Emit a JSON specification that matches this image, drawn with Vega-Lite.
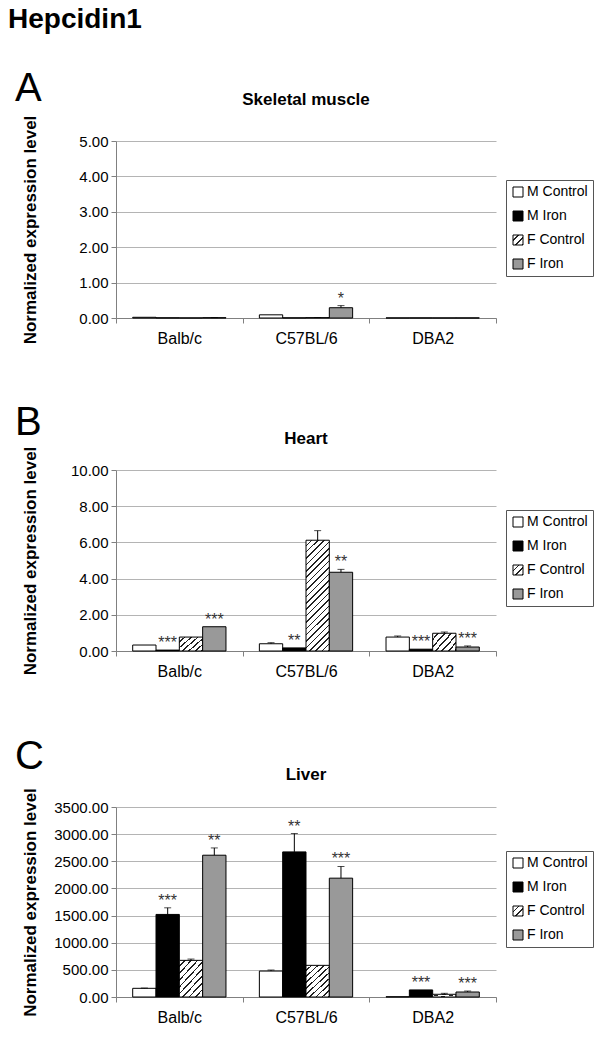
{
  "$schema": "https://vega.github.io/schema/vega-lite/v6.json",
  "padding": {"left": 8, "top": 6, "right": 5, "bottom": 5},
  "title": {"text": "Hepcidin1", "anchor": "start", "frame": "bounds", "fontSize": 28, "fontWeight": "bold", "dx": -7, "offset": 35, "color": "black"},
  "spacing": 57,
  "resolve": {"scale": {"fill": "independent", "xOffset": "independent", "x": "independent", "y": "independent"}, "legend": {"fill": "independent"}},
  "vconcat": [
    {
      "title": {"text": "A", "anchor": "start", "frame": "bounds", "fontSize": 40, "fontWeight": "normal", "dx": -6, "offset": -18, "color": "black"},
      "vconcat": [
        {
          "title": {"text": "Skeletal muscle", "anchor": "middle", "frame": "group", "fontSize": 17, "fontWeight": "bold", "offset": 6, "color": "black"},
          "width": 380,
          "height": 177,
          "data": {"values": [
            {"strain": "Balb/c", "group": "M Control", "value": 0.02, "hi": 0.02, "sig": ""},
            {"strain": "Balb/c", "group": "M Iron", "value": 0.004, "hi": 0.004, "sig": ""},
            {"strain": "Balb/c", "group": "F Control", "value": 0.003, "hi": 0.003, "sig": ""},
            {"strain": "Balb/c", "group": "F Iron", "value": 0.008, "hi": 0.012, "sig": ""},
            {"strain": "C57BL/6", "group": "M Control", "value": 0.09, "hi": 0.09, "sig": ""},
            {"strain": "C57BL/6", "group": "M Iron", "value": 0.004, "hi": 0.004, "sig": ""},
            {"strain": "C57BL/6", "group": "F Control", "value": 0.01, "hi": 0.015, "sig": ""},
            {"strain": "C57BL/6", "group": "F Iron", "value": 0.29, "hi": 0.35, "sig": "*"},
            {"strain": "DBA2", "group": "M Control", "value": 0.003, "hi": 0.003, "sig": ""},
            {"strain": "DBA2", "group": "M Iron", "value": 0.003, "hi": 0.003, "sig": ""},
            {"strain": "DBA2", "group": "F Control", "value": 0.003, "hi": 0.003, "sig": ""},
            {"strain": "DBA2", "group": "F Iron", "value": 0.003, "hi": 0.003, "sig": ""}
          ]},
          "encoding": {
            "x": {"field": "strain", "type": "nominal", "sort": ["Balb/c", "C57BL/6", "DBA2"], "scale": {"paddingInner": 0, "paddingOuter": 0}},
            "xOffset": {"field": "group", "type": "nominal", "sort": ["M Control", "M Iron", "F Control", "F Iron"], "scale": {"paddingInner": 0, "paddingOuter": 0.716}}
          },
          "layer": [
            {
              "mark": {"type": "bar", "stroke": "black", "strokeWidth": 1},
              "encoding": {
                "y": {"field": "value", "type": "quantitative", "title": "Normalized expression level", "scale": {"domain": [0, 5], "nice": false}, "axis": {"values": [0, 1, 2, 3, 4, 5], "titleY": 88.5}},
                "fill": {"field": "group", "type": "nominal", "sort": ["M Control", "M Iron", "F Control", "F Iron"],
                  "scale": {"domain": ["M Control", "M Iron", "F Control", "F Iron"], "range": ["white", "black",
                    {"expr": "{gradient: 'linear', x1: 0, y1: 0, x2: 1, y2: 1, stops: [{offset: 0, color: 'white'}, {offset: 0.25, color: 'white'}, {offset: 0.25, color: '#222'}, {offset: 0.3333, color: '#222'}, {offset: 0.3333, color: 'white'}, {offset: 0.5833, color: 'white'}, {offset: 0.5833, color: '#222'}, {offset: 0.6667, color: '#222'}, {offset: 0.6667, color: 'white'}, {offset: 0.9167, color: 'white'}, {offset: 0.9167, color: '#222'}, {offset: 1, color: '#222'}]}"},
                    "#999999"]},
                  "legend": {"legendX": 390, "legendY": 39,
                    "encode": {"symbols": {"update": {"stroke": {"value": "black"}, "strokeWidth": {"value": 1}}}}}}
              }
            },
            {
              "mark": {"type": "rule", "color": "black", "strokeWidth": 1},
              "encoding": {"y": {"field": "value", "type": "quantitative", "title": "Normalized expression level", "axis": {"values": [0, 1, 2, 3, 4, 5], "titleY": 88.5}}, "y2": {"field": "hi"}}
            },
            {
              "transform": [{"filter": "datum.hi > datum.value"}],
              "mark": {"type": "tick", "color": "black", "thickness": 1, "size": 7},
              "encoding": {"y": {"field": "hi", "type": "quantitative", "title": "Normalized expression level", "axis": {"values": [0, 1, 2, 3, 4, 5], "titleY": 88.5}}}
            },
            {
              "mark": {"type": "text", "baseline": "bottom", "dy": 1, "fontSize": 16, "color": "#333"},
              "encoding": {"y": {"field": "hi", "type": "quantitative", "title": "Normalized expression level", "axis": {"values": [0, 1, 2, 3, 4, 5], "titleY": 88.5}}, "text": {"field": "sig"}}
            }
          ]
        }
      ]
    },
    {
      "title": {"text": "B", "anchor": "start", "frame": "bounds", "fontSize": 40, "fontWeight": "normal", "dx": -6, "offset": -13, "color": "black"},
      "vconcat": [
        {
          "title": {"text": "Heart", "anchor": "middle", "frame": "group", "fontSize": 17, "fontWeight": "bold", "offset": -2, "color": "black"},
          "width": 380,
          "height": 181,
          "data": {"values": [
            {"strain": "Balb/c", "group": "M Control", "value": 0.33, "hi": 0.33, "sig": ""},
            {"strain": "Balb/c", "group": "M Iron", "value": 0.05, "hi": 0.05, "sig": "***"},
            {"strain": "Balb/c", "group": "F Control", "value": 0.77, "hi": 0.77, "sig": ""},
            {"strain": "Balb/c", "group": "F Iron", "value": 1.34, "hi": 1.34, "sig": "***"},
            {"strain": "C57BL/6", "group": "M Control", "value": 0.4, "hi": 0.46, "sig": ""},
            {"strain": "C57BL/6", "group": "M Iron", "value": 0.17, "hi": 0.17, "sig": "**"},
            {"strain": "C57BL/6", "group": "F Control", "value": 6.12, "hi": 6.65, "sig": ""},
            {"strain": "C57BL/6", "group": "F Iron", "value": 4.35, "hi": 4.51, "sig": "**"},
            {"strain": "DBA2", "group": "M Control", "value": 0.77, "hi": 0.83, "sig": ""},
            {"strain": "DBA2", "group": "M Iron", "value": 0.1, "hi": 0.1, "sig": "***"},
            {"strain": "DBA2", "group": "F Control", "value": 0.98, "hi": 1.05, "sig": ""},
            {"strain": "DBA2", "group": "F Iron", "value": 0.22, "hi": 0.28, "sig": "***"}
          ]},
          "encoding": {
            "x": {"field": "strain", "type": "nominal", "sort": ["Balb/c", "C57BL/6", "DBA2"], "scale": {"paddingInner": 0, "paddingOuter": 0}},
            "xOffset": {"field": "group", "type": "nominal", "sort": ["M Control", "M Iron", "F Control", "F Iron"], "scale": {"paddingInner": 0, "paddingOuter": 0.716}}
          },
          "layer": [
            {
              "mark": {"type": "bar", "stroke": "black", "strokeWidth": 1},
              "encoding": {
                "y": {"field": "value", "type": "quantitative", "title": "Normalized expression level", "scale": {"domain": [0, 10], "nice": false}, "axis": {"values": [0, 2, 4, 6, 8, 10], "titleY": 90.5}},
                "fill": {"field": "group", "type": "nominal", "sort": ["M Control", "M Iron", "F Control", "F Iron"],
                  "condition": [
                    {"test": "datum.group === 'F Control' && datum.value > 3", "value":
                      {"gradient": "linear", "x1": 0, "y1": 0, "x2": 0.2437, "y2": 1.159, "stops": [
                        {"offset": 0, "color": "white"}, {"offset": 0.0357, "color": "white"}, {"offset": 0.0357, "color": "#222"}, {"offset": 0.0476, "color": "#222"},
                        {"offset": 0.0476, "color": "white"}, {"offset": 0.0833, "color": "white"}, {"offset": 0.0833, "color": "#222"}, {"offset": 0.0952, "color": "#222"},
                        {"offset": 0.0952, "color": "white"}, {"offset": 0.131, "color": "white"}, {"offset": 0.131, "color": "#222"}, {"offset": 0.1429, "color": "#222"},
                        {"offset": 0.1429, "color": "white"}, {"offset": 0.1786, "color": "white"}, {"offset": 0.1786, "color": "#222"}, {"offset": 0.1905, "color": "#222"},
                        {"offset": 0.1905, "color": "white"}, {"offset": 0.2262, "color": "white"}, {"offset": 0.2262, "color": "#222"}, {"offset": 0.2381, "color": "#222"},
                        {"offset": 0.2381, "color": "white"}, {"offset": 0.2738, "color": "white"}, {"offset": 0.2738, "color": "#222"}, {"offset": 0.2857, "color": "#222"},
                        {"offset": 0.2857, "color": "white"}, {"offset": 0.3214, "color": "white"}, {"offset": 0.3214, "color": "#222"}, {"offset": 0.3333, "color": "#222"},
                        {"offset": 0.3333, "color": "white"}, {"offset": 0.369, "color": "white"}, {"offset": 0.369, "color": "#222"}, {"offset": 0.381, "color": "#222"},
                        {"offset": 0.381, "color": "white"}, {"offset": 0.4167, "color": "white"}, {"offset": 0.4167, "color": "#222"}, {"offset": 0.4286, "color": "#222"},
                        {"offset": 0.4286, "color": "white"}, {"offset": 0.4643, "color": "white"}, {"offset": 0.4643, "color": "#222"}, {"offset": 0.4762, "color": "#222"},
                        {"offset": 0.4762, "color": "white"}, {"offset": 0.5119, "color": "white"}, {"offset": 0.5119, "color": "#222"}, {"offset": 0.5238, "color": "#222"},
                        {"offset": 0.5238, "color": "white"}, {"offset": 0.5595, "color": "white"}, {"offset": 0.5595, "color": "#222"}, {"offset": 0.5714, "color": "#222"},
                        {"offset": 0.5714, "color": "white"}, {"offset": 0.6071, "color": "white"}, {"offset": 0.6071, "color": "#222"}, {"offset": 0.619, "color": "#222"},
                        {"offset": 0.619, "color": "white"}, {"offset": 0.6548, "color": "white"}, {"offset": 0.6548, "color": "#222"}, {"offset": 0.6667, "color": "#222"},
                        {"offset": 0.6667, "color": "white"}, {"offset": 0.7024, "color": "white"}, {"offset": 0.7024, "color": "#222"}, {"offset": 0.7143, "color": "#222"},
                        {"offset": 0.7143, "color": "white"}, {"offset": 0.75, "color": "white"}, {"offset": 0.75, "color": "#222"}, {"offset": 0.7619, "color": "#222"},
                        {"offset": 0.7619, "color": "white"}, {"offset": 0.7976, "color": "white"}, {"offset": 0.7976, "color": "#222"}, {"offset": 0.8095, "color": "#222"},
                        {"offset": 0.8095, "color": "white"}, {"offset": 0.8452, "color": "white"}, {"offset": 0.8452, "color": "#222"}, {"offset": 0.8571, "color": "#222"},
                        {"offset": 0.8571, "color": "white"}, {"offset": 0.8929, "color": "white"}, {"offset": 0.8929, "color": "#222"}, {"offset": 0.9048, "color": "#222"},
                        {"offset": 0.9048, "color": "white"}, {"offset": 0.9405, "color": "white"}, {"offset": 0.9405, "color": "#222"}, {"offset": 0.9524, "color": "#222"},
                        {"offset": 0.9524, "color": "white"}, {"offset": 0.9881, "color": "white"}, {"offset": 0.9881, "color": "#222"}, {"offset": 1, "color": "#222"}]}},
                    {"test": "datum.group === 'F Control'", "value":
                      {"gradient": "linear", "x1": 0, "y1": 0, "x2": 1.146, "y2": 0.787, "stops": [
                        {"offset": 0, "color": "white"}, {"offset": 0.12, "color": "white"}, {"offset": 0.12, "color": "#222"}, {"offset": 0.1667, "color": "#222"},
                        {"offset": 0.1667, "color": "white"}, {"offset": 0.2867, "color": "white"}, {"offset": 0.2867, "color": "#222"}, {"offset": 0.3333, "color": "#222"},
                        {"offset": 0.3333, "color": "white"}, {"offset": 0.4533, "color": "white"}, {"offset": 0.4533, "color": "#222"}, {"offset": 0.5, "color": "#222"},
                        {"offset": 0.5, "color": "white"}, {"offset": 0.62, "color": "white"}, {"offset": 0.62, "color": "#222"}, {"offset": 0.6667, "color": "#222"},
                        {"offset": 0.6667, "color": "white"}, {"offset": 0.7867, "color": "white"}, {"offset": 0.7867, "color": "#222"}, {"offset": 0.8333, "color": "#222"},
                        {"offset": 0.8333, "color": "white"}, {"offset": 0.9533, "color": "white"}, {"offset": 0.9533, "color": "#222"}, {"offset": 1, "color": "#222"}]}}
                  ],
                  "scale": {"domain": ["M Control", "M Iron", "F Control", "F Iron"], "range": ["white", "black",
                    {"expr": "{gradient: 'linear', x1: 0, y1: 0, x2: 1, y2: 1, stops: [{offset: 0, color: 'white'}, {offset: 0.25, color: 'white'}, {offset: 0.25, color: '#222'}, {offset: 0.3333, color: '#222'}, {offset: 0.3333, color: 'white'}, {offset: 0.5833, color: 'white'}, {offset: 0.5833, color: '#222'}, {offset: 0.6667, color: '#222'}, {offset: 0.6667, color: 'white'}, {offset: 0.9167, color: 'white'}, {offset: 0.9167, color: '#222'}, {offset: 1, color: '#222'}]}"},
                    "#999999"]},
                  "legend": {"legendX": 390, "legendY": 40,
                    "encode": {"symbols": {"update": {"stroke": {"value": "black"}, "strokeWidth": {"value": 1}}}}}}
              }
            },
            {
              "mark": {"type": "rule", "color": "black", "strokeWidth": 1},
              "encoding": {"y": {"field": "value", "type": "quantitative", "title": "Normalized expression level", "axis": {"values": [0, 2, 4, 6, 8, 10], "titleY": 90.5}}, "y2": {"field": "hi"}}
            },
            {
              "transform": [{"filter": "datum.hi > datum.value"}],
              "mark": {"type": "tick", "color": "black", "thickness": 1, "size": 7},
              "encoding": {"y": {"field": "hi", "type": "quantitative", "title": "Normalized expression level", "axis": {"values": [0, 2, 4, 6, 8, 10], "titleY": 90.5}}}
            },
            {
              "mark": {"type": "text", "baseline": "bottom", "dy": 1, "fontSize": 16, "color": "#333"},
              "encoding": {"y": {"field": "hi", "type": "quantitative", "title": "Normalized expression level", "axis": {"values": [0, 2, 4, 6, 8, 10], "titleY": 90.5}}, "text": {"field": "sig"}}
            }
          ]
        }
      ]
    },
    {
      "title": {"text": "C", "anchor": "start", "frame": "bounds", "fontSize": 40, "fontWeight": "normal", "dx": -6, "offset": -11, "color": "black"},
      "vconcat": [
        {
          "title": {"text": "Liver", "anchor": "middle", "frame": "group", "fontSize": 17, "fontWeight": "bold", "offset": 4, "color": "black"},
          "width": 380,
          "height": 190,
          "data": {"values": [
            {"strain": "Balb/c", "group": "M Control", "value": 160, "hi": 165, "sig": ""},
            {"strain": "Balb/c", "group": "M Iron", "value": 1521, "hi": 1643, "sig": "***"},
            {"strain": "Balb/c", "group": "F Control", "value": 675, "hi": 699, "sig": ""},
            {"strain": "Balb/c", "group": "F Iron", "value": 2612, "hi": 2746, "sig": "**"},
            {"strain": "C57BL/6", "group": "M Control", "value": 478, "hi": 497, "sig": ""},
            {"strain": "C57BL/6", "group": "M Iron", "value": 2673, "hi": 3011, "sig": "**"},
            {"strain": "C57BL/6", "group": "F Control", "value": 583, "hi": 583, "sig": ""},
            {"strain": "C57BL/6", "group": "F Iron", "value": 2189, "hi": 2404, "sig": "***"},
            {"strain": "DBA2", "group": "M Control", "value": 5, "hi": 5, "sig": ""},
            {"strain": "DBA2", "group": "M Iron", "value": 130, "hi": 130, "sig": "***"},
            {"strain": "DBA2", "group": "F Control", "value": 50, "hi": 68, "sig": ""},
            {"strain": "DBA2", "group": "F Iron", "value": 92, "hi": 110, "sig": "***"}
          ]},
          "encoding": {
            "x": {"field": "strain", "type": "nominal", "sort": ["Balb/c", "C57BL/6", "DBA2"], "scale": {"paddingInner": 0, "paddingOuter": 0}},
            "xOffset": {"field": "group", "type": "nominal", "sort": ["M Control", "M Iron", "F Control", "F Iron"], "scale": {"paddingInner": 0, "paddingOuter": 0.716}}
          },
          "layer": [
            {
              "mark": {"type": "bar", "stroke": "black", "strokeWidth": 1},
              "encoding": {
                "y": {"field": "value", "type": "quantitative", "title": "Normalized expression level", "scale": {"domain": [0, 3500], "nice": false}, "axis": {"values": [0, 500, 1000, 1500, 2000, 2500, 3000, 3500], "titleY": 95}},
                "fill": {"field": "group", "type": "nominal", "sort": ["M Control", "M Iron", "F Control", "F Iron"],
                  "condition": [
                    {"test": "datum.group === 'F Control' && datum.value > 300", "value":
                      {"gradient": "linear", "x1": 0, "y1": 0, "x2": 0.786, "y2": 1.147, "stops": [
                        {"offset": 0, "color": "white"}, {"offset": 0.0833, "color": "white"}, {"offset": 0.0833, "color": "#222"}, {"offset": 0.1111, "color": "#222"},
                        {"offset": 0.1111, "color": "white"}, {"offset": 0.1944, "color": "white"}, {"offset": 0.1944, "color": "#222"}, {"offset": 0.2222, "color": "#222"},
                        {"offset": 0.2222, "color": "white"}, {"offset": 0.3056, "color": "white"}, {"offset": 0.3056, "color": "#222"}, {"offset": 0.3333, "color": "#222"},
                        {"offset": 0.3333, "color": "white"}, {"offset": 0.4167, "color": "white"}, {"offset": 0.4167, "color": "#222"}, {"offset": 0.4444, "color": "#222"},
                        {"offset": 0.4444, "color": "white"}, {"offset": 0.5278, "color": "white"}, {"offset": 0.5278, "color": "#222"}, {"offset": 0.5556, "color": "#222"},
                        {"offset": 0.5556, "color": "white"}, {"offset": 0.6389, "color": "white"}, {"offset": 0.6389, "color": "#222"}, {"offset": 0.6667, "color": "#222"},
                        {"offset": 0.6667, "color": "white"}, {"offset": 0.75, "color": "white"}, {"offset": 0.75, "color": "#222"}, {"offset": 0.7778, "color": "#222"},
                        {"offset": 0.7778, "color": "white"}, {"offset": 0.8611, "color": "white"}, {"offset": 0.8611, "color": "#222"}, {"offset": 0.8889, "color": "#222"},
                        {"offset": 0.8889, "color": "white"}, {"offset": 0.9722, "color": "white"}, {"offset": 0.9722, "color": "#222"}, {"offset": 1, "color": "#222"}]}}
                  ],
                  "scale": {"domain": ["M Control", "M Iron", "F Control", "F Iron"], "range": ["white", "black",
                    {"expr": "{gradient: 'linear', x1: 0, y1: 0, x2: 1, y2: 1, stops: [{offset: 0, color: 'white'}, {offset: 0.25, color: 'white'}, {offset: 0.25, color: '#222'}, {offset: 0.3333, color: '#222'}, {offset: 0.3333, color: 'white'}, {offset: 0.5833, color: 'white'}, {offset: 0.5833, color: '#222'}, {offset: 0.6667, color: '#222'}, {offset: 0.6667, color: 'white'}, {offset: 0.9167, color: 'white'}, {offset: 0.9167, color: '#222'}, {offset: 1, color: '#222'}]}"},
                    "#999999"]},
                  "legend": {"legendX": 390, "legendY": 44,
                    "encode": {"symbols": {"update": {"stroke": {"value": "black"}, "strokeWidth": {"value": 1}}}}}}
              }
            },
            {
              "mark": {"type": "rule", "color": "black", "strokeWidth": 1},
              "encoding": {"y": {"field": "value", "type": "quantitative", "title": "Normalized expression level", "axis": {"values": [0, 500, 1000, 1500, 2000, 2500, 3000, 3500], "titleY": 95}}, "y2": {"field": "hi"}}
            },
            {
              "transform": [{"filter": "datum.hi > datum.value"}],
              "mark": {"type": "tick", "color": "black", "thickness": 1, "size": 7},
              "encoding": {"y": {"field": "hi", "type": "quantitative", "title": "Normalized expression level", "axis": {"values": [0, 500, 1000, 1500, 2000, 2500, 3000, 3500], "titleY": 95}}}
            },
            {
              "mark": {"type": "text", "baseline": "bottom", "dy": 1, "fontSize": 16, "color": "#333"},
              "encoding": {"y": {"field": "hi", "type": "quantitative", "title": "Normalized expression level", "axis": {"values": [0, 500, 1000, 1500, 2000, 2500, 3000, 3500], "titleY": 95}}, "text": {"field": "sig"}}
            }
          ]
        }
      ]
    }
  ],
  "config": {
    "font": "Liberation Sans",
    "view": {"stroke": null},
    "axis": {"labelColor": "black", "labelFont": "Liberation Sans", "domainColor": "#808080", "tickColor": "#808080", "tickSize": 5, "titleColor": "black", "titleFont": "Liberation Sans"},
    "axisY": {"format": ".2f", "labelFontSize": 15, "grid": true, "gridColor": "#b4b4b4", "labelPadding": 3, "titleFontSize": 17, "titleFontWeight": "bold", "titleX": -94, "titleAngle": 270, "titleBaseline": "top", "titleAlign": "center"},
    "axisX": {"title": null, "labelFontSize": 16, "grid": false, "tickBand": "extent", "labelAngle": 0, "labelPadding": 7},
    "legend": {"orient": "none", "title": null, "symbolType": "square", "symbolSize": 100, "symbolStrokeColor": "black", "symbolStrokeWidth": 1, "labelFontSize": 14, "labelFont": "Liberation Sans", "labelColor": "black", "strokeColor": "#555", "fillColor": "white", "padding": 5, "rowPadding": 10, "labelOffset": 2},
    "title": {"font": "Liberation Sans"}
  }
}
